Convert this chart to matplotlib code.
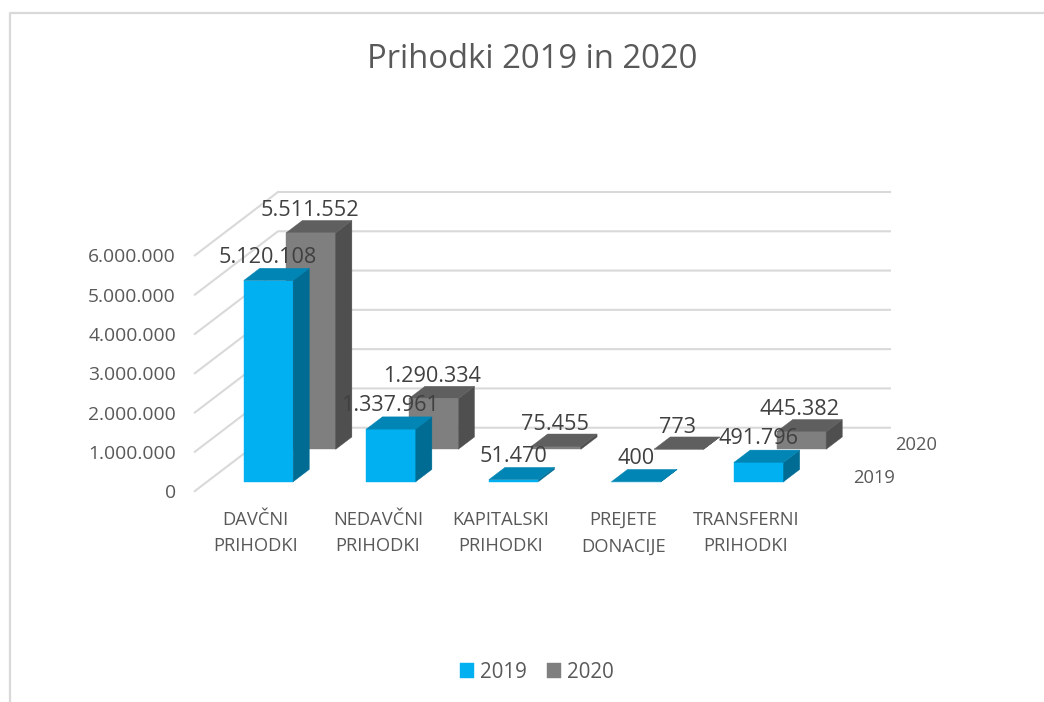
import matplotlib
matplotlib.use("Agg")
import matplotlib.pyplot as plt
from matplotlib.lines import Line2D
from matplotlib.transforms import ScaledTranslation

categories = ["DAVČNI\nPRIHODKI", "NEDAVČNI\nPRIHODKI", "KAPITALSKI\nPRIHODKI",
              "PREJETE\nDONACIJE", "TRANSFERNI\nPRIHODKI"]
values_2019 = [5120108, 1337961, 51470, 400, 491796]
values_2020 = [5511552, 1290334, 75455, 773, 445382]
y_ticks = [0, 1000000, 2000000, 3000000, 4000000, 5000000, 6000000]
y_tick_labels = ["0", "1.000.000", "2.000.000", "3.000.000", "4.000.000", "5.000.000", "6.000.000"]

W, H = 1044, 702
FONT = "Open Sans"
TXT = "#595959"
LBL = "#404040"
GRID = "#d9d9d9"

fig = plt.figure(figsize=(W / 100, H / 100), dpi=100, facecolor="white")
# axes: front wall floor edge 194..807 px, value 0 at y=491.7 px, 6M at y=256 px
ax = fig.add_axes([194 / W, 1 - 491.7 / H, 613 / W, (491.7 - 256) / H])
ax.set_xlim(-0.5, 4.5)
ax.set_ylim(0, 6000000)
ax.patch.set_visible(False)
for s in ax.spines.values():
    s.set_visible(False)

px_x = 5 / 613           # category units per pixel
px_y = 6000000 / 235.7   # value units per pixel
DX, DY = 84 * px_x, 64 * px_y   # full depth of the oblique projection


def shear(d):
    return d * DX, d * DY


# walls
for v in y_ticks:
    sx, sy = shear(1)
    ax.plot([-0.5, -0.5 + sx, 4.5 + sx], [v, v + sy, v + sy], color=GRID, lw=1.5,
            clip_on=False, zorder=1, solid_capstyle="butt", solid_joinstyle="miter")

BAR_W = 49.5 * px_x


def bars(vals, d0, d1, front, side, top, label, z, lab_dx, lab_dy):
    sx0, sy0 = shear(d0)
    sx1, sy1 = shear(d1)
    ex, ey = sx1 - sx0, sy1 - sy0
    cont = ax.bar([i + sx0 for i in range(len(vals))], vals, width=BAR_W, bottom=sy0,
                  color=front, edgecolor=front, label=label, zorder=z, clip_on=False, linewidth=0.3)
    for i, v in enumerate(vals):
        l = i + sx0 - BAR_W / 2
        r = l + BAR_W
        b, t = sy0, sy0 + v
        ax.fill([r, r + ex, r + ex, r], [b, b + ey, t + ey, t], facecolor=side, edgecolor=side,
                lw=0.3, zorder=z, clip_on=False)
        ax.fill([l, r, r + ex, l + ex], [t, t, t + ey, t + ey], facecolor=top, edgecolor=top,
                lw=0.3, zorder=z, clip_on=False)
        ax.annotate(f"{v:,}".replace(",", "."), (i + sx0, t), xytext=(lab_dx * 0.72, lab_dy * 0.72),
                    textcoords="offset points", ha="center", va="center", fontsize=15.6,
                    color=LBL, family=FONT, zorder=10, annotation_clip=False)
    return cont


bars(values_2020, 0.6625, 0.855, "#7f7f7f", "#4f4f4f", "#5f5f5f", "2020", 3, -1.5, 22)
bars(values_2019, 0.156, 0.348, "#00b0f0", "#006c94", "#0085b5", "2019", 4, -0.5, 23.5)

ax.set_yticks(y_ticks, y_tick_labels, fontsize=13.9, color=TXT, family=FONT)
ax.set_xticks(range(5), categories, fontsize=13.2, color=TXT, family=FONT, linespacing=1.58)
ax.tick_params(axis="y", length=0, pad=18 * 0.72)
ax.tick_params(axis="x", length=0, pad=19.5 * 0.72)
shift = ScaledTranslation(0, 0.5 / 100, fig.dpi_scale_trans)
for t in ax.get_yticklabels():
    t.set_transform(t.get_transform() + shift)

# depth-axis labels
fig.text(874 / W, 1 - 478 / H, "2019", ha="center", va="center", fontsize=13.2, color=TXT, family=FONT)
fig.text(916 / W, 1 - 445 / H, "2020", ha="center", va="center", fontsize=13.2, color=TXT, family=FONT)

fig.suptitle("Prihodki 2019 in 2020", x=532.5 / W, y=1 - 60 / H, ha="center", va="center",
             fontsize=23.6, color=TXT, family=FONT)

h, l = ax.get_legend_handles_labels()
order = [1, 0]
fig.legend([h[i] for i in order], [l[i] for i in order], loc="center", ncol=2,
           bbox_to_anchor=(537 / W, 1 - 672 / H), frameon=False, handlelength=0.7, handleheight=0.7,
           handletextpad=0.3, columnspacing=0.95, prop={"family": FONT, "size": 14.8}, labelcolor=TXT)

# chart frame
fig.add_artist(Line2D([9.5 / W, 9.5 / W, 1], [0, 1 - 13 / H, 1 - 13 / H], color=GRID, lw=1.6))

fig.savefig("out.png", dpi=100)
